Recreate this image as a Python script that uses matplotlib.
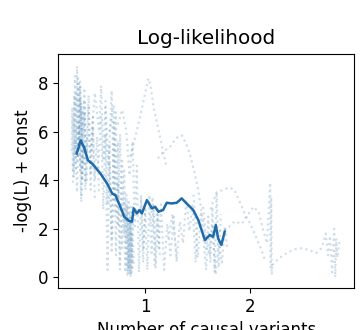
import matplotlib
matplotlib.use("Agg")
import matplotlib.pyplot as plt

plt.rcParams['font.size'] = 12

# Mean log-likelihood curve
mean_x = [0.347, 0.385, 0.416, 0.454, 0.495, 0.574, 0.637, 0.685, 0.716, 0.763,
          0.800, 0.842, 0.874, 0.890, 0.920, 0.946, 0.968, 1.016, 1.063, 1.095,
          1.126, 1.170, 1.205, 1.250, 1.300, 1.347, 1.394, 1.457, 1.505, 1.568,
          1.615, 1.647, 1.672, 1.694, 1.725, 1.757]
mean_y = [5.10, 5.64, 5.37, 4.82, 4.68, 4.27, 3.86, 3.45, 3.38, 2.90,
          2.49, 2.33, 2.29, 2.84, 2.63, 2.77, 2.63, 3.18, 2.84, 2.90,
          2.70, 2.77, 3.07, 3.04, 3.07, 3.25, 3.04, 2.77, 2.36, 1.53,
          1.74, 1.67, 2.15, 1.60, 1.33, 1.88]

# Individual traces (dotted)
trace_x = [
    [0.30, 0.305, 0.31, 0.315, 0.32, 0.325, 0.33, 0.335, 0.34],
    [0.32, 0.33, 0.34, 0.35, 0.36, 0.37, 0.38, 0.39, 0.40],
    [0.34, 0.35, 0.36, 0.37, 0.38, 0.39, 0.40, 0.41, 0.42, 0.43],
    [0.36, 0.38, 0.40, 0.42, 0.44, 0.46, 0.48, 0.50, 0.52],
    [0.38, 0.40, 0.42, 0.44, 0.46, 0.48, 0.50, 0.52, 0.54, 0.56],
    [0.31, 0.33, 0.35, 0.37, 0.39, 0.41, 0.43, 0.45],
    [0.48, 0.52, 0.56, 0.58, 0.60, 0.62, 0.64, 0.66, 0.68, 0.70],
    [0.55, 0.58, 0.60, 0.62, 0.64, 0.66, 0.68, 0.70, 0.72, 0.74, 0.76],
    [0.62, 0.65, 0.68, 0.70, 0.72, 0.74, 0.76, 0.78, 0.80, 0.82],
    [0.66, 0.70, 0.72, 0.74, 0.76, 0.78, 0.80, 0.82, 0.84, 0.86, 0.88],
    [0.80, 0.81, 0.82, 0.83, 0.84, 0.85, 0.855, 0.86, 0.865, 0.87, 0.88, 0.89],
    [0.82, 0.83, 0.84, 0.85, 0.86, 0.87, 0.88],
    [0.74, 0.78, 0.82, 0.85, 0.88, 0.90, 0.92, 0.94, 0.96, 0.98, 1.00],
    [0.86, 0.90, 0.94, 0.97, 1.00, 1.03, 1.05, 1.08, 1.11, 1.14, 1.17, 1.20],
    [1.12, 1.18, 1.24, 1.30, 1.35, 1.39, 1.43, 1.47, 1.50, 1.53, 1.56, 1.58],
    [0.96, 0.98, 1.00, 1.02, 1.04, 1.06, 1.08, 1.10, 1.12, 1.14],
    [1.05, 1.07, 1.09, 1.11, 1.13, 1.15, 1.18, 1.21, 1.24, 1.27, 1.30],
    [1.22, 1.26, 1.30, 1.33, 1.36, 1.39, 1.42, 1.45, 1.48, 1.50],
    [1.46, 1.50, 1.53, 1.56, 1.58, 1.60, 1.62, 1.64, 1.66, 1.68, 1.70, 1.72],
    [1.55, 1.58, 1.61, 1.64, 1.67, 1.70, 1.73, 1.76, 1.78],
    [1.62, 1.68, 1.74, 1.80, 1.85, 1.90, 1.95, 2.00, 2.05, 2.10, 2.14],
    [1.70, 1.78, 1.85, 1.92, 1.98, 2.03, 2.08, 2.12, 2.16, 2.19, 2.195, 2.20, 2.205, 2.21],
    [2.21, 2.28, 2.35, 2.42, 2.50, 2.57, 2.63, 2.68, 2.72, 2.74, 2.76, 2.78, 2.80, 2.81, 2.82, 2.83, 2.85],
]
trace_y = [
    [5.2, 7.0, 4.4, 6.6, 4.1, 7.5, 4.6, 6.2, 4.3],
    [6.0, 8.3, 5.1, 8.7, 4.9, 8.0, 4.4, 7.2, 4.0],
    [7.6, 4.8, 8.2, 5.3, 7.9, 3.4, 6.9, 4.7, 7.3, 3.8],
    [5.0, 7.4, 4.1, 6.8, 3.9, 7.1, 3.6, 6.2, 3.2],
    [8.1, 5.6, 7.8, 5.0, 7.5, 4.3, 6.6, 4.0, 5.8, 3.5],
    [3.9, 5.7, 3.5, 6.3, 3.1, 5.4, 3.6, 5.9],
    [5.2, 7.6, 6.0, 7.9, 4.8, 7.0, 3.0, 5.5, 1.0, 3.8],
    [4.5, 6.6, 2.8, 5.9, 0.3, 4.7, 1.6, 6.4, 0.9, 3.9, 0.2],
    [7.3, 4.6, 7.7, 3.2, 6.8, 2.1, 5.9, 1.2, 4.4, 0.4],
    [6.0, 7.1, 2.6, 5.6, 0.5, 4.8, 1.8, 3.4, 0.1, 2.9, 0.3],
    [3.1, 0.2, 2.8, 0.1, 3.2, 0.3, 2.6, 0.0, 2.3, 0.2, 2.9, 0.5],
    [1.5, 3.0, 0.4, 2.4, 0.1, 1.8, 0.6],
    [6.3, 6.9, 6.0, 4.2, 5.6, 2.0, 4.6, 0.2, 3.4, 1.1, 2.8],
    [5.0, 5.7, 6.4, 7.0, 7.6, 8.2, 7.9, 7.0, 6.4, 5.8, 5.2, 4.6],
    [4.9, 5.2, 5.4, 5.75, 5.85, 5.5, 5.0, 4.3, 3.7, 2.9, 2.0, 1.0],
    [3.2, 0.6, 2.9, 0.3, 3.4, 1.0, 3.0, 0.4, 2.6, 0.8],
    [2.2, 3.3, 0.5, 2.8, 1.2, 3.0, 0.3, 2.2, 0.9, 2.5, 0.6],
    [1.6, 2.6, 0.7, 2.3, 1.4, 3.2, 1.9, 3.0, 0.6, 2.4],
    [3.4, 0.8, 2.7, 1.3, 0.3, 2.5, 0.6, 2.9, 0.2, 3.5, 0.4, 2.6],
    [2.9, 1.6, 0.9, 2.2, 0.1, 1.5, 0.6, 2.1, 1.2],
    [2.8, 3.5, 3.6, 3.7, 3.6, 3.1, 2.6, 2.2, 1.7, 1.2, 0.7],
    [1.9, 2.0, 2.3, 2.2, 2.6, 2.9, 2.7, 2.0, 1.4, 3.9, 0.4, 3.3, 0.1, 0.5],
    [0.5, 0.8, 1.0, 1.15, 1.2, 1.1, 1.0, 1.2, 1.8, 0.9, 1.7, 0.2, 2.0, 0.0, 1.6, 0.8, 1.5],
]

x_ticks = [1, 2]
y_ticks = [0, 2, 4, 6, 8]

fig = plt.figure(figsize=(3.61, 3.30), dpi=100)
ax = fig.add_axes([0.161, 0.127, 0.820, 0.709])

for tx, ty in zip(trace_x, trace_y):
    ax.plot(tx, ty, linestyle=':', color='#5a8fb8', alpha=0.3, linewidth=1.5)

ax.plot(mean_x, mean_y, color='#1f6aa8', linewidth=1.8)

ax.set_xlim(0.17, 2.99)
ax.set_ylim(-0.45, 9.2)
ax.set_xticks(x_ticks)
ax.set_yticks(y_ticks)
ax.set_title("Log-likelihood", pad=7)
ax.set_xlabel("Number of causal variants")
ax.set_ylabel("-log(L) + const")

fig.savefig("out.png", dpi=100)
